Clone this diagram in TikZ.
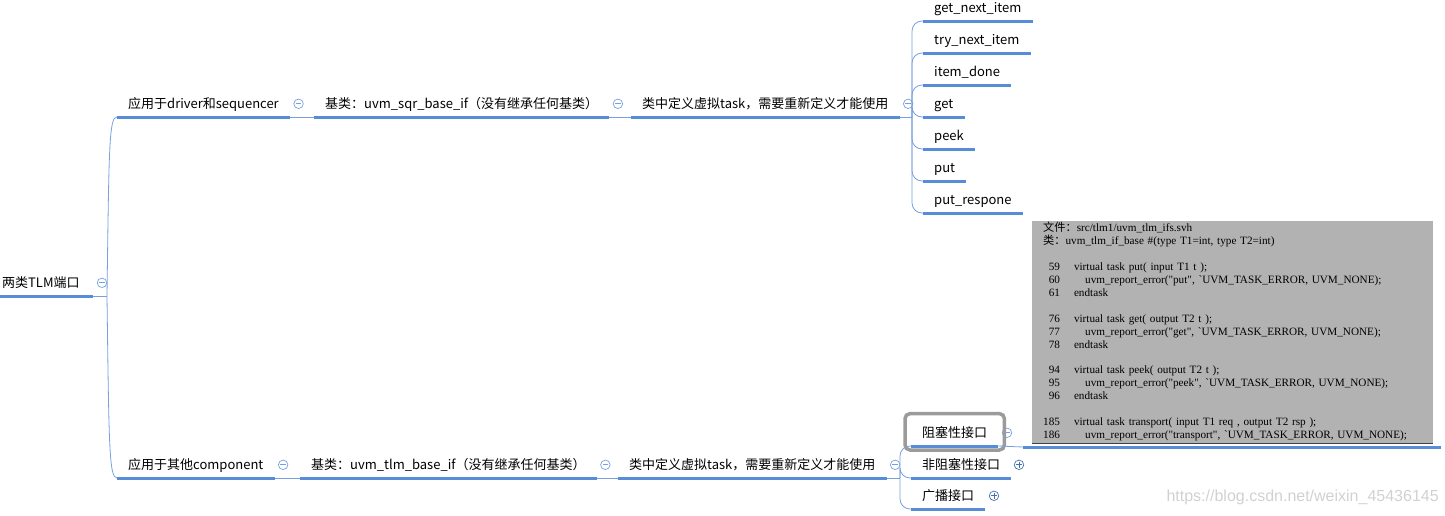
\documentclass[tikz,border=0pt]{standalone}
\usepackage{fontspec}
\setmainfont{Noto Sans CJK SC}
\newfontfamily\cjkfont{Noto Sans CJK SC}
\newfontfamily\codefont[WordSpace=1.5]{Liberation Serif}
\newfontfamily\wmfont{Liberation Sans}
\usepackage{xcolor}
\usetikzlibrary{positioning, calc}
\definecolor{ramo}{RGB}{86,141,214}
\definecolor{azzurro}{RGB}{120,160,222}
\definecolor{sfondo}{RGB}{178,178,178}
\definecolor{cornice}{RGB}{155,155,155}

\begin{document}
\begin{tikzpicture}[x=1pt, y=-1pt,
    voce/.style={anchor=south west, inner xsep=11pt, inner ysep=5pt, text height=9pt, text depth=3pt, font=\fontsize{13}{15}\selectfont},
    sotto/.style={ramo, line width=3pt},
    filo/.style={azzurro, line width=0.8pt, rounded corners=10pt},
    meno/.style={circle, draw=azzurro, line width=0.7pt, minimum size=9.5pt, inner sep=0pt,
        path picture={\draw[azzurro, line width=0.7pt] ([xshift=2pt]path picture bounding box.west) -- ([xshift=-2pt]path picture bounding box.east);}},
    piu/.style={meno, draw=ramo!80!black,
        path picture={\draw[ramo!80!black, line width=0.7pt] ([xshift=2pt]path picture bounding box.west) -- ([xshift=-2pt]path picture bounding box.east) ([yshift=-2pt]path picture bounding box.north) -- ([yshift=2pt]path picture bounding box.south);}},
    codebox/.style={anchor=north west, fill=sfondo, inner xsep=11pt, inner ysep=1pt, text width=379pt, minimum height=221pt, align=left, font=\codefont\fontsize{11.2}{12.9}\selectfont}
]
    \useasboundingbox (0,0) rectangle (1445,515);

    % Radice
    \node[voce, inner xsep=2pt, text width=89pt] (tlm) at (0,296) {两类TLM端口};
    \draw[sotto] (tlm.south west) -- (tlm.south east);
    \node[meno, right=3.5pt of tlm.east, yshift=2pt] (c-tlm) {};
    \coordinate (rp) at (107,296);
    \draw[filo] (tlm.south east) -- (rp);

    % Ramo superiore
    \node[voce] (drv) at (117,117) {应用于driver和sequencer};
    \node[voce] (sqrbase) at (314,117) {基类：uvm\_sqr\_base\_if（没有继承任何基类）};
    \node[voce] (sqrtask) at (631,117) {类中定义虚拟task，需要重新定义才能使用};

    % Ramo inferiore
    \node[voce] (comp) at (117,478) {应用于其他component};
    \node[voce] (tlmbase) at (300,478) {基类：uvm\_tlm\_base\_if（没有继承任何基类）};
    \node[voce] (tlmtask) at (618,478) {类中定义虚拟task，需要重新定义才能使用};

    \foreach \n in {drv, sqrbase, sqrtask, comp, tlmbase, tlmtask} {
        \draw[sotto] (\n.south west) -- (\n.south east);
        \node[meno, right=3.5pt of \n.east, yshift=2pt] (c-\n) {};
    }
    \draw[filo] (rp) .. controls ($(rp)+(2,-150)$) and ($(drv.south west)+(-8,0)$) .. (drv.south west);
    \draw[filo] (rp) .. controls ($(rp)+(2,150)$) and ($(comp.south west)+(-8,0)$) .. (comp.south west);
    \draw[filo] (drv.south east) -- (sqrbase.south west);
    \draw[filo] (sqrbase.south east) -- (sqrtask.south west);
    \draw[filo] (comp.south east) -- (tlmbase.south west);
    \draw[filo] (tlmbase.south east) -- (tlmtask.south west);

    % Foglie (task virtuali)
    \coordinate (sp) at (912,117);
    \draw[filo] (sqrtask.south east) -- (sp);
    \foreach \t [count=\i] in {get\_next\_item, try\_next\_item, item\_done, get, peek, put, put\_respone} {
        \node[voce] (f\i) at (923, -11+32*\i) {\t};
        \draw[sotto] (f\i.south west) -- (f\i.south east);
        \draw[filo] (sp) |- (f\i.south west);
    }

    % Interfacce
    \coordinate (bp) at (900,478);
    \draw[filo] (tlmtask.south east) -- (bp);
    \node[voce] (bloc) at (911,446) {阻塞性接口};
    \node[voce] (nonbloc) at (911,478) {非阻塞性接口};
    \node[voce] (broad) at (911,509) {广播接口};
    \foreach \n in {bloc, nonbloc, broad} {
        \draw[sotto] (\n.south west) -- (\n.south east);
        \draw[filo] (bp) |- (\n.south west);
    }
    \node[meno, right=3.5pt of bloc.east, yshift=2pt] (c-bloc) {};
    \node[piu, right=2.5pt of nonbloc.east, yshift=2pt] (c-nonbloc) {};
    \node[piu, right=3.5pt of broad.east, yshift=2pt] (c-broad) {};

    % Cornice di selezione
    \draw[cornice, line width=3.5pt, rounded corners=5pt] ($(bloc.north west)+(-6,-10)$) rectangle ($(bloc.south east)+(6,4)$);

    % Immagine del codice
    \coordinate (img-l) at (1023,447);
    \coordinate (img-r) at (1441,447);
    \draw[filo] (bloc.south east) -- (img-l);
    \draw[sotto] (img-l) -- (img-r);
    \node[codebox] (codice) at (1032,221) {%
        \begin{tabular}{@{}r@{\hspace{14pt}}l@{}}
        \multicolumn{2}{@{}l}{{\cjkfont 文件：}src/tlm1/uvm\_tlm\_ifs.svh}\\
        \multicolumn{2}{@{}l}{{\cjkfont 类：}uvm\_tlm\_if\_base \#(type T1=int, type T2=int)}\\
        & \\
        59 & virtual task put( input T1 t );\\
        60 & \quad uvm\_report\_error("put", `UVM\_TASK\_ERROR, UVM\_NONE);\\
        61 & endtask\\
        & \\
        76 & virtual task get( output T2 t );\\
        77 & \quad uvm\_report\_error("get", `UVM\_TASK\_ERROR, UVM\_NONE);\\
        78 & endtask\\
        & \\
        94 & virtual task peek( output T2 t );\\
        95 & \quad uvm\_report\_error("peek", `UVM\_TASK\_ERROR, UVM\_NONE);\\
        96 & endtask\\
        & \\
        185 & virtual task transport( input T1 req , output T2 rsp );\\
        186 & \quad uvm\_report\_error("transport", `UVM\_TASK\_ERROR, UVM\_NONE);
        \end{tabular}};
    \draw[black!75, line width=0.8pt] (codice.south west) -- (codice.south east);

    % Filigrana
    \node[font=\wmfont\fontsize{16}{18}\selectfont, text=black!18, anchor=west] (wm) at (1163,497) {https://blog.csdn.net/weixin\_45436145};
\end{tikzpicture}
\end{document}
